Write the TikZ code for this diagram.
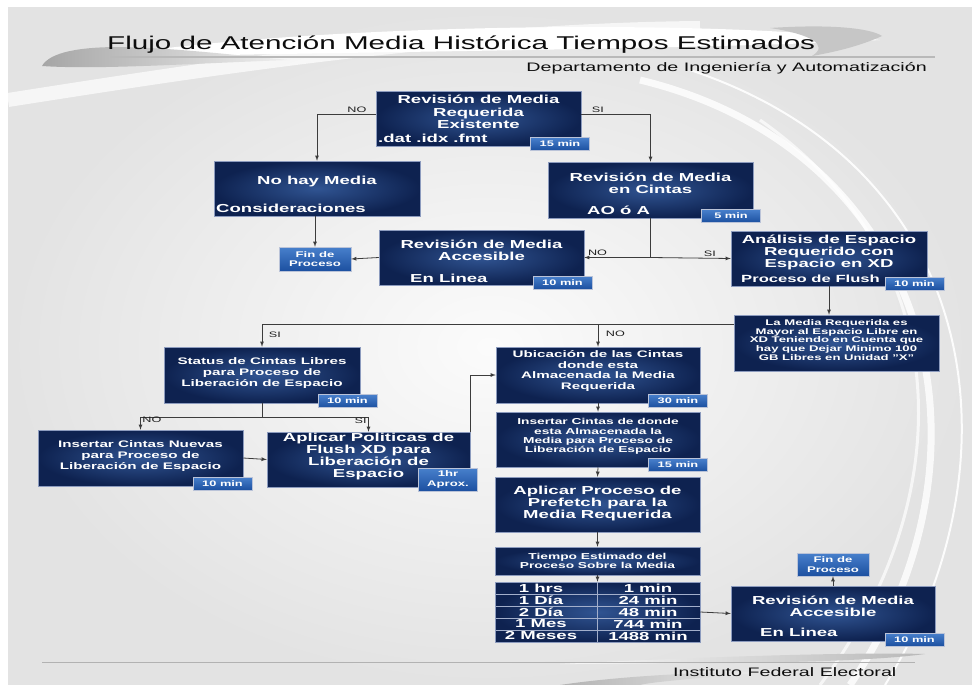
\documentclass[tikz,border=0pt]{standalone}
\usepackage{fontspec}
\setmainfont{Liberation Sans}[FakeStretch=1.6]
\usepackage{tikz}

\definecolor{cajaoscura}{RGB}{14,34,80}
\definecolor{cajaclara}{RGB}{48,84,146}
\definecolor{cajaborde}{RGB}{140,155,190}
\definecolor{etiqarriba}{RGB}{72,128,204}
\definecolor{etiqabajo}{RGB}{28,80,160}
\definecolor{linea}{RGB}{60,60,60}

\newcommand{\fuentetitulo}{\fontsize{18.5}{22}\selectfont}
\newcommand{\fuentesub}{\fontsize{12.3}{14}\selectfont}
\newcommand{\fuentegrande}{\fontsize{11.6}{12.2}\selectfont\bfseries}
\newcommand{\fuenteflush}{\fontsize{10.4}{12}\selectfont\bfseries}
\newcommand{\fuentemedia}{\fontsize{9.5}{10.8}\selectfont\bfseries}
\newcommand{\fuentechica}{\fontsize{8.6}{9.2}\selectfont\bfseries}
\newcommand{\fuentemini}{\fontsize{8.2}{8.6}\selectfont\bfseries}
\newcommand{\fuenteetiq}{\fontsize{8}{8.6}\selectfont\bfseries}
\newcommand{\fuentefin}{\fontsize{8.2}{9.3}\selectfont\bfseries}
\newcommand{\fuenterotulo}{\fontsize{7.9}{9}\selectfont}
\newcommand{\fuentetabla}{\fontsize{11.6}{12}\selectfont\bfseries}

\begin{document}
\begin{tikzpicture}[x=1pt, y=-1pt, >=latex,
		caja/.style={draw=cajaborde, line width=0.5pt, inner color=cajaclara, outer color=cajaoscura, inner sep=0pt},
		etiqueta/.style={draw=cajaborde!60!white, line width=0.4pt, top color=etiqarriba, bottom color=etiqabajo, text=white, font=\fuenteetiq, inner sep=0pt, minimum width=59pt, minimum height=13pt, align=center},
		finbox/.style={etiqueta, minimum width=72pt, minimum height=24pt, font=\fuentefin},
		texto/.style={text=white, align=center, inner sep=0pt},
		tramo/.style={draw=linea, line width=0.8pt},
		flecha/.style={tramo, ->},
		rotulo/.style={text=gray!25!black, font=\fuenterotulo, inner sep=1.5pt}]

		%% Fondo y adornos
		\useasboundingbox (0,0) rectangle (972,685);
		\fill[white] (0,0) rectangle (972,685);
		\shade[inner color=gray!3, outer color=gray!22] (8,8) rectangle (972,685);
		\draw[white, line width=14pt, opacity=0.7] (8,100) .. controls (200,70) and (450,30) .. (700,28);
		\draw[white, line width=7pt, opacity=0.8] (640,80) .. controls (930,150) and (1010,450) .. (850,685);
		\draw[white, line width=2pt, opacity=0.9] (690,70) .. controls (990,170) and (1020,470) .. (885,685);
		\draw[white, line width=3pt, opacity=0.7] (760,120) .. controls (960,260) and (960,500) .. (820,685);

		%% Titulo
		\fill[white] (95,58) .. controls (300,24) and (700,18) .. (880,40) .. controls (700,50) and (300,52) .. (95,58) -- cycle;
		\shade[left color=gray!70, right color=gray!12] (42,66) .. controls (50,52) and (80,47) .. (120,47) .. controls (180,48) and (240,56) .. (290,60) .. controls (200,63) and (100,70) .. (42,66) -- cycle;
		\fill[gray!45] (770,28) .. controls (830,24) and (870,28) .. (882,36) .. controls (860,46) and (835,52) .. (812,56) .. controls (830,45) and (810,34) .. (770,28) -- cycle;
		\draw[gray!55, line width=1.2pt] (110,57) -- (935,57);
		\node[anchor=base west, inner sep=0pt, text=gray!10!black, font=\fuentetitulo] (titulo) at (107,50) {Flujo de Atención Media Histórica Tiempos Estimados};
		\node[anchor=base east, inner sep=0pt, text=gray!10!black, font=\fuentesub] (depto) at (927,71) {Departamento de Ingeniería y Automatización};

		%% Pie
		\shade[left color=gray!5, right color=gray!55] (560,664) .. controls (700,657) and (850,652) .. (925,654) .. controls (880,660) and (800,664) .. (560,664) -- cycle;
		\shade[left color=gray!60, right color=gray!10] (560,685) .. controls (620,676) and (700,672) .. (780,671) .. controls (700,678) and (650,682) .. (640,685) -- cycle;
		\draw[gray!60, line width=1pt] (42,662) -- (915,662);
		\node[anchor=base west, inner sep=0pt, text=gray!10!black, font=\fuentesub] (ife) at (673,676) {Instituto Federal Electoral};

		%% Cajas
		\node[caja, minimum width=205pt, minimum height=55pt] (top) at (478.5,118.5) {};
		\node[caja, minimum width=206pt, minimum height=55pt] (nohay) at (317,188.5) {};
		\node[caja, minimum width=205pt, minimum height=56pt] (cintas) at (650.5,190) {};
		\node[caja, minimum width=205pt, minimum height=55pt] (accesA) at (481.5,257.5) {};
		\node[caja, minimum width=196pt, minimum height=55pt] (analisis) at (829,258.5) {};
		\node[caja, minimum width=205pt, minimum height=56pt] (lamedia) at (836.5,343) {};
		\node[caja, minimum width=196pt, minimum height=56pt] (status) at (262,375) {};
		\node[caja, minimum width=205pt, minimum height=56pt] (insN) at (140.5,458) {};
		\node[caja, minimum width=203pt, minimum height=55pt] (aplicar) at (368.5,459.5) {};
		\node[caja, minimum width=204pt, minimum height=56pt] (ubic) at (598,375) {};
		\node[caja, minimum width=204pt, minimum height=55pt] (insD) at (598,439.5) {};
		\node[caja, minimum width=205pt, minimum height=55pt] (prefetch) at (597.5,504.5) {};
		\node[caja, minimum width=205pt, minimum height=28pt] (tiempo) at (597.5,561) {};
		\node[caja, minimum width=205pt, minimum height=60pt] (tabla) at (597.5,612) {};
		\node[caja, minimum width=204pt, minimum height=55pt] (accesB) at (833,613.5) {};
		\node[finbox] (finA) at (315,259) {Fin de\\Proceso};
		\node[finbox, minimum height=23pt] (finB) at (833,564.5) {Fin de\\Proceso};

		%% Textos de las cajas
		\node[texto, font=\fuentegrande] (top-t) at (478.5,112) {Revisión de Media\\Requerida\\Existente};
		\node[texto, font=\fuentegrande, anchor=west] (top-b) at (378,138) {.dat .idx .fmt};
		\node[texto, font=\fuentegrande] (nohay-t) at (317,182) {No hay Media};
		\node[texto, font=\fuentegrande, anchor=west] (nohay-b) at (216,208) {Consideraciones};
		\node[texto, font=\fuentegrande] (cintas-t) at (650.5,183) {Revisión de Media\\en Cintas};
		\node[texto, font=\fuentegrande, anchor=west] (cintas-b) at (587,210) {AO ó A};
		\node[texto, font=\fuentegrande] (accesA-t) at (481.5,250) {Revisión de Media\\Accesible};
		\node[texto, font=\fuentegrande, anchor=west] (accesA-b) at (410,278) {En Linea};
		\node[texto, font=\fuentegrande] (analisis-t) at (829,252.5) {Análisis de Espacio\\Requerido con\\Espacio en XD};
		\node[texto, font=\fuenteflush, anchor=west] (analisis-b) at (741,278.5) {Proceso de Flush};
		\node[texto, font=\fuentemini] (lamedia-t) at (836.5,340) {La Media Requerida es\\Mayor al Espacio Libre en\\XD Teniendo en Cuenta que\\hay que Dejar Minimo 100\\GB Libres en Unidad "X"};
		\node[texto, font=\fuentemedia] (status-t) at (262,373) {Status de Cintas Libres\\para Proceso de\\Liberación de Espacio};
		\node[texto, font=\fuentemedia] (insN-t) at (140.5,456) {Insertar Cintas Nuevas\\para Proceso de\\Liberación de Espacio};
		\node[texto, font=\fuentegrande] (aplicar-t) at (368.5,456.5) {Aplicar Politicas de\\Flush XD para\\Liberación de\\Espacio};
		\node[texto, font=\fuentemedia] (ubic-t) at (598,371) {Ubicación de las Cintas\\donde esta\\Almacenada la Media\\Requerida};
		\node[texto, font=\fuentechica] (insD-t) at (598,436.5) {Insertar Cintas de donde\\esta Almacenada la\\Media para Proceso de\\Liberación de Espacio};
		\node[texto, font=\fuentegrande] (prefetch-t) at (597.5,503.5) {Aplicar Proceso de\\Prefetch para la\\Media Requerida};
		\node[texto, font=\fuentechica] (tiempo-t) at (597.5,561) {Tiempo Estimado del\\Proceso Sobre la Media};
		\node[texto, font=\fuentegrande] (accesB-t) at (833,606) {Revisión de Media\\Accesible};
		\node[texto, font=\fuentegrande, anchor=west] (accesB-b) at (760,632) {En Linea};

		%% Tabla de tiempos
		\foreach \i in {1,...,4}
			\draw[cajaborde!80, line width=0.5pt] (495.5,{582+12*\i}) -- (699.5,{582+12*\i});
		\draw[cajaborde!80, line width=0.5pt] (tabla.north) -- (tabla.south);
		\foreach \i/\a/\b in {0/1 hrs/1 min, 1/1 Día/24 min, 2/2 Día/48 min, 3/1 Mes/744 min, 4/2 Meses/1488 min} {
			\node[texto, font=\fuentetabla] (fila\i a) at (541,{588+12*\i}) {\a};
			\node[texto, font=\fuentetabla] (fila\i b) at (648,{588+12*\i}) {\b};
		}

		%% Etiquetas de tiempo
		\node[etiqueta] (top-e) at (560,144) {15 min};
		\node[etiqueta] (cintas-e) at (731,216) {5 min};
		\node[etiqueta] (accesA-e) at (562.5,282.5) {10 min};
		\node[etiqueta] (analisis-e) at (914.5,283.5) {10 min};
		\node[etiqueta] (status-e) at (347.5,401) {10 min};
		\node[etiqueta] (insN-e) at (222.5,483.5) {10 min};
		\node[etiqueta, minimum height=23pt, font=\fuentefin] (aplicar-e) at (448,479.5) {1hr\\Aprox.};
		\node[etiqueta] (ubic-e) at (678,400.5) {30 min};
		\node[etiqueta] (insD-e) at (678,465) {15 min};
		\node[etiqueta] (accesB-e) at (914.5,639.5) {10 min};

		%% Conectores
		\draw[flecha] ([yshift=4.5pt]top.west) -| (nohay.north) node[rotulo, pos=0.16, above] (no1) {NO};
		\draw[flecha] ([yshift=4.5pt]top.east) -| (cintas.north) node[rotulo, pos=0.12, above] (si1) {SI};
		\draw[flecha] (nohay.south -| finA.north) -- (finA.north);
		\coordinate (cruce) at (cintas.south |- accesA.east);
		\draw[tramo] (cintas.south) -- (cruce);
		\draw[flecha] (cruce) -- (accesA.east) node[rotulo, pos=0.8, above] (no2) {NO};
		\draw[flecha] (cruce) -- (analisis.west) node[rotulo, pos=0.74, above] (si2) {SI};
		\draw[flecha] (accesA.west) -- (finA.east);
		\draw[flecha] (analisis.south) -- (analisis.south |- lamedia.north);

		% Rama de La Media Requerida
		\coordinate (rama) at ([yshift=-10pt]lamedia.north west);
		\draw[flecha] (rama) -| (status.north) node[rotulo, pos=0.72, right=5pt] (si3) {SI};
		\draw[flecha] (rama -| ubic.north) -- (ubic.north) node[rotulo, pos=0.4, right=6pt] (no3) {NO};

		% Status de cintas
		\coordinate (bif) at ([yshift=-14pt]status.south);
		\draw[tramo] (status.south) -- (bif);
		\draw[flecha] (bif) -| (insN.north) node[rotulo, pos=0.62, right] (no4) {NO};
		\draw[flecha] (bif) -| (aplicar.north) node[rotulo, pos=0.62, left] (si4) {SI};
		\draw[flecha] (insN.east) -- (aplicar.west);
		\draw[flecha] (aplicar.north east) |- (ubic.west);

		% Columna central
		\draw[flecha] (ubic.south) -- (insD.north);
		\draw[flecha] (insD.south) -- (prefetch.north);
		\draw[flecha] (prefetch.south) -- (tiempo.north);
		\draw[flecha] (tiempo.south) -- (tabla.north);
		\draw[flecha] (tabla.east) -- (accesB.west);
		\draw[flecha] (accesB.north) -- (finB.south);
	\end{tikzpicture}
\end{document}
